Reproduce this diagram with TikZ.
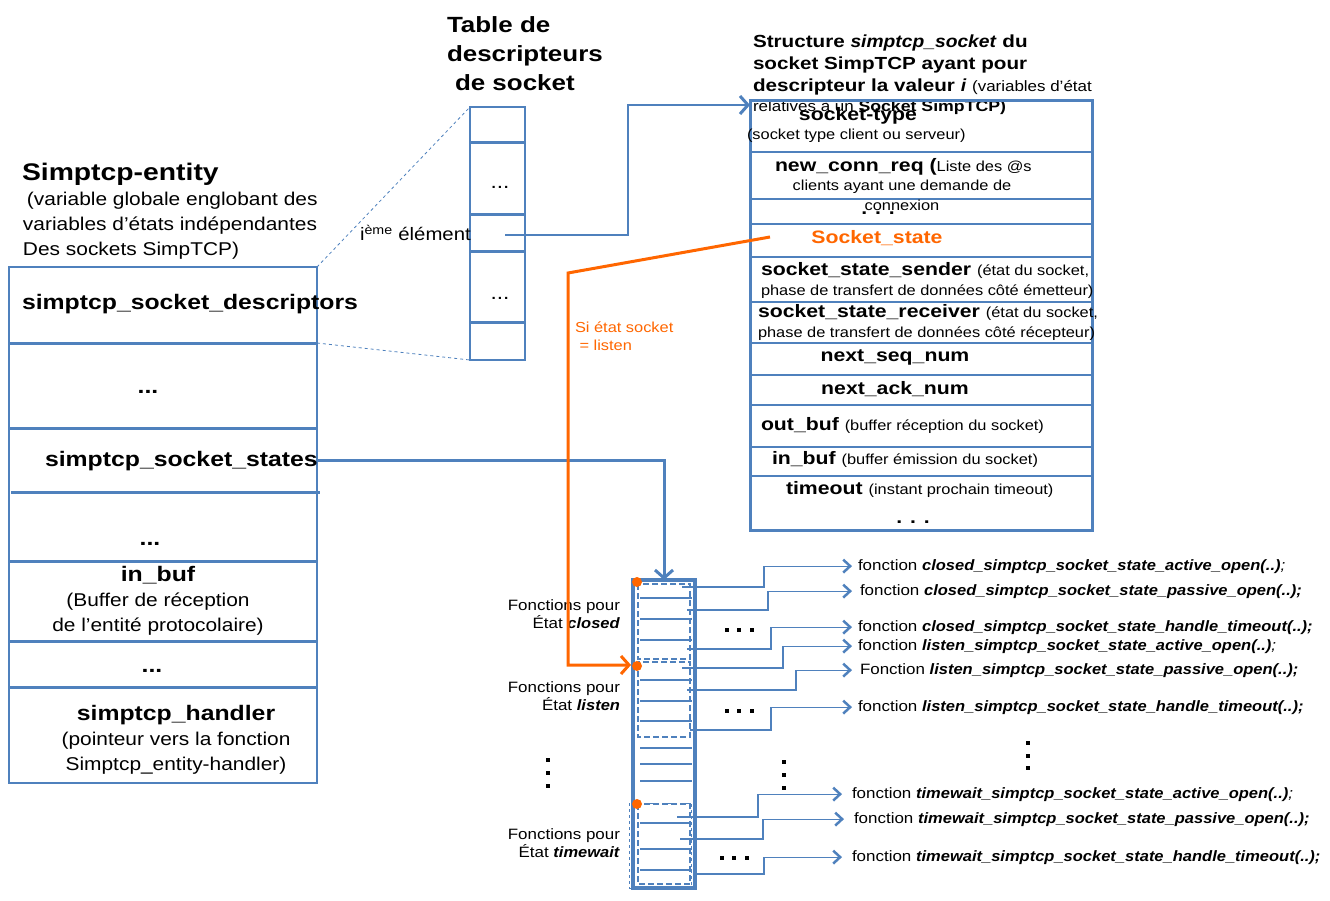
\documentclass[tikz,border=0pt]{standalone}
\usepackage{fontspec}
\setmainfont{Liberation Sans}[
  UprightFeatures={FakeStretch=1.13},
  BoldFeatures={FakeStretch=1.18},
  ItalicFeatures={FakeStretch=1.13},
  BoldItalicFeatures={FakeStretch=1.10}]
\usetikzlibrary{arrows.meta,calc}
\definecolor{bl}{RGB}{79,129,189}
\definecolor{orng}{RGB}{255,102,0}
\newcommand\myfs[1]{\fontsize{#1}{#1}\selectfont}
\begin{document}
\begin{tikzpicture}[x=1pt,y=-1pt,
  every node/.style={inner sep=0pt,outer sep=0pt},
  tl/.style={anchor=base west},
  tc/.style={anchor=base},
  tr/.style={anchor=base east},
  box/.style={draw=bl,line width=1.5pt,anchor=north west},
  thickdiv/.style={draw=bl,line width=3pt},
  thindiv/.style={draw=bl,line width=1.2pt},
  fdiv/.style={draw=bl,line width=2pt},
  grp/.style={draw=bl,line width=2.5pt,dash pattern=on 6pt off 3pt},
  bigarrow/.style={draw=bl,line width=3pt,-{Straight Barb[length=8pt,width=18pt,line width=3pt]}},
  orarrow/.style={draw=orng,line width=3pt,-{Straight Barb[length=8pt,width=18pt,line width=3pt]}},
  thinarrow/.style={draw=bl,line width=1.2pt,-{Straight Barb[length=7pt,width=13pt,line width=2.5pt]}},
  zoomline/.style={draw=bl,line width=0.8pt,dashed},
  fn/.style={anchor=base west,font=\myfs{15}},
  lab/.style={anchor=base east,font=\myfs{15}},
  sq/.style={fill=black}
]
\useasboundingbox (0,0) rectangle (1330,901);

% ---------------- Left: Simptcp-entity
\node[tl,font=\myfs{24}\bfseries] (enttitle) at (22,181) {Simptcp-entity};
\node[tl,font=\myfs{18.5}] (entd1) at (27,206) {(variable globale englobant des};
\node[tl,font=\myfs{18.5}] (entd2) at (23,231) {variables d’états indépendantes};
\node[tl,font=\myfs{18.5}] (entd3) at (23,256) {Des sockets SimpTCP)};

\node[box,minimum width=308pt,minimum height=516pt] (entity) at (9,267) {};
\draw[thickdiv] (9,343) -- (317,343);
\draw[thickdiv] (9,428) -- (317,428);
\draw[thickdiv] (11,492) -- (320,492);
\draw[thickdiv] (9,561) -- (317,561);
\draw[thickdiv] (9,641) -- (317,641);
\draw[thickdiv] (9,687) -- (317,687);

\node[tl,font=\myfs{21}\bfseries] (descr) at (22,309) {simptcp\_socket\_descriptors};
\node[tc,font=\myfs{21}\bfseries] (ed1) at (148,393) {...};
\node[tl,font=\myfs{21}\bfseries] (states) at (45,466) {simptcp\_socket\_states};
\node[tc,font=\myfs{21}\bfseries] (ed2) at (150,545) {...};
\node[tc,font=\myfs{21}\bfseries] (inbuf) at (158,581) {in\_buf};
\node[tc,font=\myfs{18.5}] (inbuf1) at (158,606) {(Buffer de réception};
\node[tc,font=\myfs{18.5}] (inbuf2) at (158,631) {de l’entité protocolaire)};
\node[tc,font=\myfs{21}\bfseries] (ed3) at (152,672) {...};
\node[tc,font=\myfs{21}\bfseries] (handler) at (176,720) {simptcp\_handler};
\node[tc,font=\myfs{18.5}] (handler1) at (176,745) {(pointeur vers la fonction};
\node[tc,font=\myfs{18.5}] (handler2) at (176,770) {Simptcp\_entity-handler)};

% ---------------- Table de descripteurs
\node[tl,font=\myfs{22}\bfseries] (tt1) at (447,33) {Table de};
\node[tl,font=\myfs{22}\bfseries] (tt2) at (447,62) {descripteurs};
\node[tl,font=\myfs{22}\bfseries] (tt3) at (455,91) {de socket};

\node[box,minimum width=55pt,minimum height=253pt] (table) at (470,107) {};
\draw[thickdiv] (470,143) -- (525,143);
\draw[thickdiv] (470,215) -- (525,215);
\draw[thickdiv] (470,252) -- (525,252);
\draw[thickdiv] (470,322) -- (525,322);
\node[tc,font=\myfs{20}] (td1) at (500,189) {...};
\node[tc,font=\myfs{20}] (td2) at (500,299) {...};
\node[tl,font=\myfs{18}] (ielemtxt) at (360,241) {i\textsuperscript{ème} élément};

\draw[zoomline] (entity.north east) -- (table.north west);
\draw[zoomline] (317,343) -- (table.south west);

% ---------------- Structure simptcp_socket
\node[tl,font=\myfs{17.5}\bfseries] (st1) at (753,48) {Structure \textit{simptcp\_socket} du};
\node[tl,font=\myfs{17.5}\bfseries] (st2) at (753,70) {socket SimpTCP ayant pour};
\node[tl,font=\myfs{17.5}\bfseries] (st3) at (753,92) {descripteur la valeur \textit{i} {\mdseries\myfs{15}(variables d’état}};
\node[tl,font=\myfs{15}] (st4) at (753,112) {relatives à un \textbf{Socket SimpTCP)}};

\node[box,line width=3pt,minimum width=342pt,minimum height=429pt] (struct) at (750,101) {};
\foreach \yy in {152,199,224,257,302,343,375,405,447,476}
  \draw[thindiv] (750,\yy) -- (1092,\yy);

\node[tc,font=\myfs{18}\bfseries] (stype) at (858,121) {socket-type};
\node[tl,font=\myfs{14.5}] (stype1) at (747,140) {(socket type client ou serveur)};
\node[tl,font=\myfs{18}\bfseries] (ncr) at (775,172) {new\_conn\_req ({\mdseries\myfs{14.5}Liste des @s}};
\node[tc,font=\myfs{14.5}] (ncr1) at (902,191) {clients ayant une demande de};
\node[tc,font=\myfs{14.5}] (ncr2) at (902,211) {connexion};
\node[tc,font=\myfs{18}\bfseries] (sd1) at (878,215) {. . .};
\node[tc,font=\myfs{18}\bfseries,text=orng] (sstate) at (877,244) {Socket\_state};
\node[tl,font=\myfs{18}\bfseries] (ssend) at (761,276) {socket\_state\_sender {\mdseries\myfs{14.5}(état du socket,}};
\node[tl,font=\myfs{14.5}] (ssend1) at (761,295) {phase de transfert de données côté émetteur)};
\node[tl,font=\myfs{18}\bfseries] (srecv) at (758,317) {socket\_state\_receiver {\mdseries\myfs{14.5}(état du socket,}};
\node[tl,font=\myfs{14.5}] (srecv1) at (758,337) {phase de transfert de données côté récepteur)};
\node[tc,font=\myfs{18}\bfseries] (nsn) at (895,361) {next\_seq\_num};
\node[tc,font=\myfs{18}\bfseries] (nan) at (895,394) {next\_ack\_num};
\node[tl,font=\myfs{18}\bfseries] (obuf) at (761,430) {out\_buf {\mdseries\myfs{14.5}(buffer réception du socket)}};
\node[tl,font=\myfs{18}\bfseries] (ibuf) at (772,464) {in\_buf {\mdseries\myfs{14.5}(buffer émission du socket)}};
\node[tl,font=\myfs{18}\bfseries] (tout) at (786,494) {timeout {\mdseries\myfs{14.5}(instant prochain timeout)}};
\node[tc,font=\myfs{18}\bfseries] (sd2) at (913,523) {. . .};

% connector i-th element -> structure
\coordinate (ielem) at (505,235);
\draw[bigarrow,line width=2.5pt] (ielem) -- (628,235) |- ($(struct.north west)+(0,4)$);

% ---------------- Function array
\node[draw=bl,line width=4pt,anchor=north west,minimum width=62pt,minimum height=308pt] (funcs) at (633,580) {};
\foreach \yy in {598,619,640,680,701,721,748,764,781,823,849,870}
  \draw[fdiv] (640,\yy) -- (692,\yy);
\draw[grp] (638,584) rectangle (690,659);
\draw[grp] (638,662) rectangle (690,737);
\draw[grp] (638,804) rectangle (690,884);
\draw[draw=bl,line width=0.8pt,dashed] (629,803) rectangle (691,888);

\node[lab] (lc1) at (620,610) {Fonctions pour};
\node[lab] (lc2) at (620,628) {État \textbf{\textit{closed}}};
\node[lab] (ll1) at (620,692) {Fonctions pour};
\node[lab] (ll2) at (620,710) {État \textbf{\textit{listen}}};
\node[lab] (lt1) at (620,839) {Fonctions pour};
\node[lab] (lt2) at (620,857) {État \textbf{\textit{timewait}}};

% states -> function array
\draw[bigarrow] (states.east) -| (funcs.north);

% orange path
\coordinate (sst) at (770,237);
\coordinate (bend1) at (568,273);
\coordinate (bend2) at (568,665);
\coordinate (lstin) at (631,665);
\draw[orarrow] (sst) -- (bend1) -- (bend2) -- (lstin);
\node[tl,font=\myfs{14.5},text=orng] (si1) at (575,332) {Si état socket};
\node[tl,font=\myfs{14.5},text=orng] (si2) at (575,350) {\ = listen};

\fill[orng] (637,582) circle (5pt);
\fill[orng] (637,666) circle (5pt);
\fill[orng] (637,804) circle (5pt);

% function names
\node[fn] (f1) at (858,570) {fonction \textbf{\textit{closed\_simptcp\_socket\_state\_active\_open(..)}}\textit{;}};
\node[fn] (f2) at (860,595) {fonction \textbf{\textit{closed\_simptcp\_socket\_state\_passive\_open(..);}}};
\node[fn] (f3) at (858,631) {fonction \textbf{\textit{closed\_simptcp\_socket\_state\_handle\_timeout(..);}}};
\node[fn] (f4) at (858,650) {fonction \textbf{\textit{listen\_simptcp\_socket\_state\_active\_open(..)}}\textit{;}};
\node[fn] (f5) at (860,674) {Fonction \textbf{\textit{listen\_simptcp\_socket\_state\_passive\_open(..);}}};
\node[fn] (f6) at (858,711) {fonction \textbf{\textit{listen\_simptcp\_socket\_state\_handle\_timeout(..);}}};
\node[fn] (f7) at (852,798) {fonction \textbf{\textit{timewait\_simptcp\_socket\_state\_active\_open(..)}}\textit{;}};
\node[fn] (f8) at (854,823) {fonction \textbf{\textit{timewait\_simptcp\_socket\_state\_passive\_open(..);}}};
\node[fn] (f9) at (852,861) {fonction \textbf{\textit{timewait\_simptcp\_socket\_state\_handle\_timeout(..);}}};

\draw[thinarrow] (682,587) -- (764,587) |- ([xshift=-6pt]f1.west);
\draw[thinarrow] (687,610) -- (768,610) |- ([xshift=-8pt]f2.west);
\draw[thinarrow] (687,649) -- (771,649) |- ([xshift=-6pt]f3.west);
\draw[thinarrow] (682,668) -- (783,668) |- ([xshift=-6pt]f4.west);
\draw[thinarrow] (687,690) -- (796,690) |- ([xshift=-8pt]f5.west);
\draw[thinarrow] (690,730) -- (771,730) |- ([xshift=-6pt]f6.west);
\draw[thinarrow] (677,817) -- (758,817) |- ([xshift=-10pt]f7.west);
\draw[thinarrow] (680,839) -- (763,839) |- ([xshift=-10pt]f8.west);
\draw[thinarrow] (697,874) -- (764,874) |- ([xshift=-10pt]f9.west);

% dots
\foreach \xx/\yy in {727/630,739/630,752/630, 727/711,739/711,752/711, 722/858,734/858,747/858,
                     548/760,548/773,548/786, 784/762,784/775,784/788, 1028/743,1028/756,1028/768}
  \fill[sq] (\xx-2,\yy-2) rectangle (\xx+2,\yy+2);
\end{tikzpicture}
\end{document}
